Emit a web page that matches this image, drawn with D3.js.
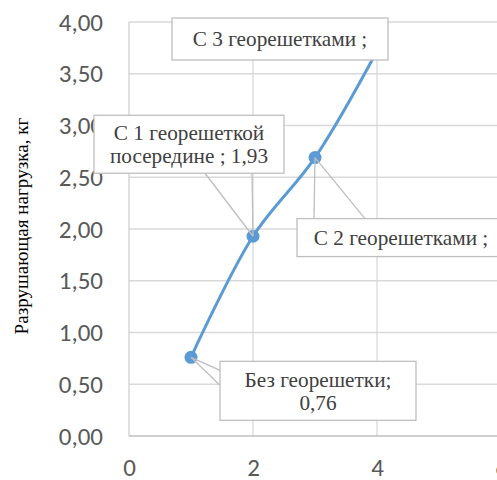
<!DOCTYPE html>
<html><head><meta charset="utf-8">
<script src="https://cdn.jsdelivr.net/npm/d3@7"></script>
</head><body style="margin:0">
<svg id="c" width="497" height="480"></svg>
<script>
const xValues = [1, 2, 3, 4];
const yValues = [0.76, 1.93, 2.69, 3.72];
const labelLines = [["Без георешетки;", "0,76"], ["С 1 георешеткой", "посередине ; 1,93"], ["С 2 георешетками ;"], ["С 3 георешетками ;"]];
const yTicks = [0, 0.5, 1, 1.5, 2, 2.5, 3, 3.5, 4];
const xTicks = [0, 2, 4, 6];
const yTitle = "Разрушающая нагрузка, кг";

const SERIF = '"Tinos"';
const TITLE_FONT = '"Times New Roman"';
const SANS = '"Carlito"';

const svg = d3.select("#c");
const x = d3.scaleLinear().domain([0, 6]).range([129, 501]);
const y = d3.scaleLinear().domain([0, 4]).range([436, 22]);

function fitSize(text, family, wanted, lo, hi) {
  const t = svg.append("text").style("font-family", family).attr("font-size", 20).text(text);
  const w = t.node().getComputedTextLength();
  t.remove();
  const s = w > 0 ? 20 * wanted / w : (lo + hi) / 2;
  return Math.max(lo, Math.min(hi, s));
}
const labelTargets = [145, 151, 175, 176];
const labelSize = d3.mean(labelLines.map((l, i) => fitSize(l[0], SERIF, labelTargets[i], 20, 22.5)));
const titleSize = fitSize(yTitle, TITLE_FONT, 217, 18.5, 21);

// gridlines
svg.append("g").selectAll("line").data(yTicks.filter(d => d > 0)).join("line")
  .attr("x1", x(0)).attr("x2", x(6)).attr("y1", d => y(d)).attr("y2", d => y(d))
  .attr("stroke", "#d9d9d9").attr("stroke-width", 1.3);
svg.append("g").selectAll("line").data(xTicks.filter(d => d > 0)).join("line")
  .attr("x1", d => x(d)).attr("x2", d => x(d)).attr("y1", y(0)).attr("y2", y(4))
  .attr("stroke", "#d9d9d9").attr("stroke-width", 1.3);
svg.append("line").attr("x1", x(0)).attr("x2", x(0)).attr("y1", y(0)).attr("y2", y(4))
  .attr("stroke", "#d0d0d0").attr("stroke-width", 1.3);
svg.append("line").attr("x1", x(0)).attr("x2", x(6)).attr("y1", y(0)).attr("y2", y(0))
  .attr("stroke", "#bfbfbf").attr("stroke-width", 1.3);

// y title
svg.append("text")
  .attr("transform", `translate(28,${(y(0) + y(4)) / 2 - 3}) rotate(-90)`)
  .attr("text-anchor", "middle").style("font-family", TITLE_FONT).attr("font-size", titleSize)
  .attr("fill", "#000").text(yTitle);

// line
const pts = xValues.map((d, i) => [x(d), y(yValues[i])]);
svg.append("path").datum(pts)
  .attr("d", d3.line().curve(d3.curveCatmullRom.alpha(0.5)))
  .attr("fill", "none").attr("stroke", "#5B9BD5").attr("stroke-width", 3);
svg.append("g").selectAll("circle").data(pts).join("circle")
  .attr("cx", d => d[0]).attr("cy", d => d[1]).attr("r", 6.5).attr("fill", "#5B9BD5");

// y tick labels
const yAxis = d3.axisLeft(y).tickValues(yTicks).tickSize(0).tickPadding(26)
  .tickFormat(d => d3.format(".2f")(d).replace(".", ","));
const gy = svg.append("g").attr("transform", `translate(${x(0)},0)`).call(yAxis);
gy.select(".domain").remove();
gy.attr("font-family", null).attr("font-size", null);
gy.selectAll("text").style("font-family", SANS).attr("font-size", 25).attr("fill", "#595959");

// x tick labels
const xAxis = d3.axisBottom(x).tickValues(xTicks).tickSize(0).tickPadding(22).tickFormat(d => d);
const gx = svg.append("g").attr("transform", `translate(0,${y(0)})`).call(xAxis);
gx.select(".domain").remove();
gx.attr("font-family", null).attr("font-size", null);
gx.selectAll("text").style("font-family", SANS).attr("font-size", 25).attr("fill", "#595959");

// data labels (box offsets relative to the point, wedge attach points relative to the box)
const layout = [
  {dx: 29, dy: 4, w: 196, h: 59, wedge: [[0, 9], [0, 24]]},
  {dx: -159, dy: -121, w: 190, h: 58, wedge: [[111, 58], [158, 58]]},
  {dx: -18, dy: 61, w: 208, h: 38, wedge: [[17, 0], [68, 0]]},
  {dx: -205, dy: -33, w: 216, h: 42, wedge: null}
];
layout.forEach((L, i) => {
  const [px, py] = pts[i];
  const bx = px + L.dx, by = py + L.dy;
  if (L.wedge) L.wedge.forEach(w => {
    svg.append("line").attr("x1", px).attr("y1", py).attr("x2", bx + w[0]).attr("y2", by + w[1])
      .attr("stroke", "#bfbfbf").attr("stroke-width", 1.3);
  });
});
layout.forEach((L, i) => {
  const [px, py] = pts[i];
  const bx = px + L.dx, by = py + L.dy;
  svg.append("rect").attr("x", bx).attr("y", by).attr("width", L.w).attr("height", L.h)
    .attr("fill", "#fff").attr("stroke", "#bfbfbf").attr("stroke-width", 1.3);
  const lines = labelLines[i];
  const lh = 23.3;
  const base0 = by + L.h / 2 + 7.5 - (lines.length - 1) * lh / 2;
  lines.forEach((t, j) => {
    svg.append("text").attr("x", bx + L.w / 2).attr("y", base0 + j * lh)
      .attr("text-anchor", "middle")
      .style("font-family", SERIF).attr("font-size", labelSize)
      .attr("fill", "#404040").text(t);
  });
});
</script>
</body></html>
